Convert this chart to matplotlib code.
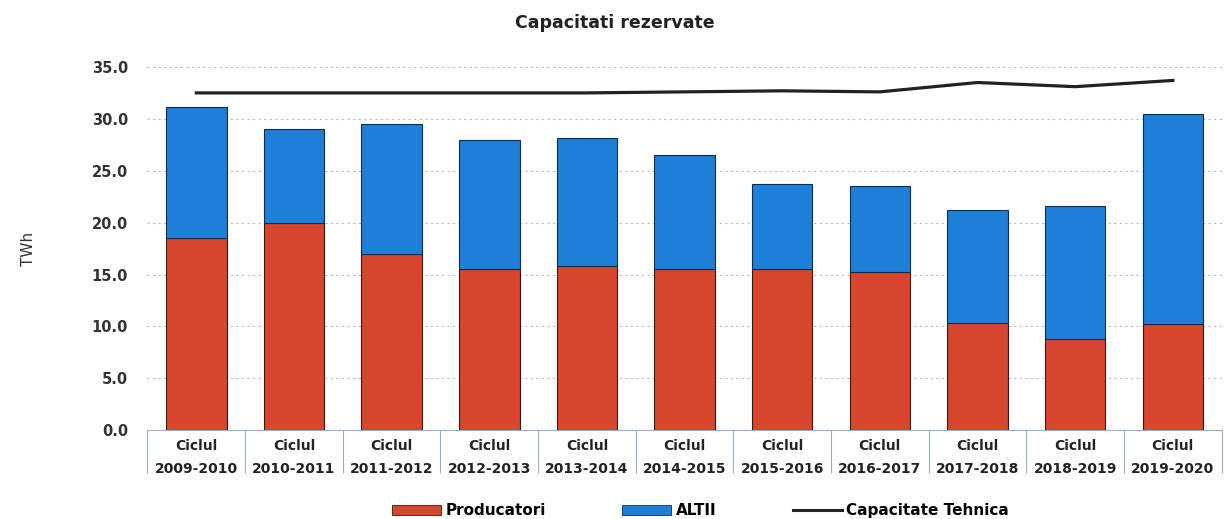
import numpy as np
import matplotlib.pyplot as plt
from matplotlib.lines import Line2D
from matplotlib.patches import Patch

plt.rcParams['font.family'] = 'DejaVu Sans'

# Date
cicluri = ['2009-2010', '2010-2011', '2011-2012', '2012-2013', '2013-2014', '2014-2015',
           '2015-2016', '2016-2017', '2017-2018', '2018-2019', '2019-2020']
producatori = [18.5, 20.0, 17.0, 15.5, 15.8, 15.5, 15.5, 15.2, 10.3, 8.8, 10.2]
altii = [12.6, 9.0, 12.5, 12.5, 12.4, 11.0, 8.2, 8.3, 10.9, 12.8, 20.3]
capacitate_tehnica = [32.5, 32.5, 32.5, 32.5, 32.5, 32.6, 32.7, 32.6, 33.5, 33.1, 33.7]

rosu = '#D8462E'
albastru = '#1E7FD8'

fig = plt.figure(figsize=(12.29, 5.19), dpi=100)
ax = fig.add_axes([0.12, 0.171, 0.874, 0.70])

x = np.arange(len(cicluri))
ax.bar(x, producatori, width=0.62, color=rosu, edgecolor='#3a1a14', linewidth=0.8, zorder=3)
ax.bar(x, altii, width=0.62, bottom=producatori, color=albastru, edgecolor='#0f2d52',
       linewidth=0.8, zorder=3)
ax.plot(x, capacitate_tehnica, color='#222222', linewidth=2.3, zorder=4)

ax.set_ylim(0, 35)
ax.set_xlim(-0.5, len(cicluri) - 0.5)
ax.set_yticks(np.arange(0, 35.1, 5))
ax.set_yticklabels([f'{v:.1f}' for v in np.arange(0, 35.1, 5)],
                   fontsize=10.5, fontweight='bold', color='#333333')
ax.yaxis.grid(True, linestyle=(0, (2, 3)), color='#bbbbbb', linewidth=0.8)
ax.set_axisbelow(True)

ax.set_xticks(x)
ax.set_xticklabels(['Ciclul\n' + c for c in cicluri], fontsize=10, fontweight='bold',
                   color='#222222', linespacing=1.9)
ax.set_xticks(np.arange(-0.5, len(cicluri)), minor=True)
ax.tick_params(axis='x', which='major', length=0, pad=6)
ax.tick_params(axis='x', which='minor', length=31, color='#9ab0c8', width=0.8)
ax.tick_params(axis='y', length=0, pad=14)

for s in ['top', 'right', 'left']:
    ax.spines[s].set_visible(False)
ax.spines['bottom'].set_color('#9ab0c8')

ax.set_ylabel('TWh', fontsize=11, color='#333333', labelpad=40)

fig.text(0.5, 0.955, 'Capacitati rezervate', ha='center', va='center',
         fontsize=12.5, fontweight='bold', color='#222222')

handles = [Patch(facecolor=rosu, edgecolor='#3a1a14', linewidth=0.6),
           Patch(facecolor=albastru, edgecolor='#0f2d52', linewidth=0.6),
           Line2D([0], [0], color='#222222', linewidth=2.2)]
fig.legend(handles, ['Producatori', 'ALTII', 'Capacitate Tehnica'], loc='lower center',
           bbox_to_anchor=(0.57, -0.025), ncol=3, frameon=False, handlelength=3.2,
           handleheight=0.6, columnspacing=5, handletextpad=0.3,
           prop={'weight': 'bold', 'size': 11})

plt.savefig('out.png', dpi=100, facecolor='white')
